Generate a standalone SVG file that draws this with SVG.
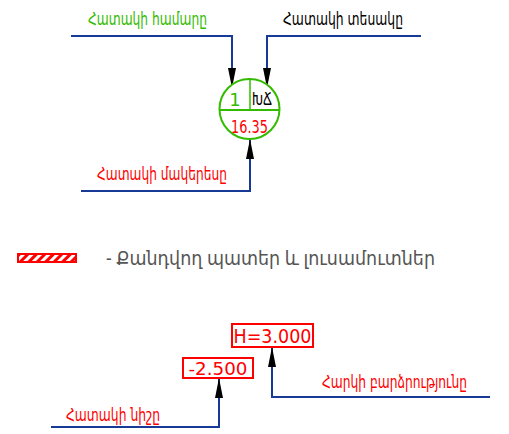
<svg xmlns="http://www.w3.org/2000/svg" width="509" height="434" viewBox="0 0 509 434">
<style>
.t{font-family:"DejaVu Sans","Noto Sans",sans-serif;font-size:18px}
.g{fill:#33bb00}.r{fill:#ff0000}.k{fill:#000}
.ln{fill:none;stroke:#163a96;stroke-width:2;marker-end:url(#ah)}
.box{fill:#fff;stroke:#ff0000;stroke-width:2}
</style>
<defs>
<marker id="ah" markerUnits="userSpaceOnUse" markerWidth="22" markerHeight="10" refX="20" refY="4" orient="auto">
<path d="M0,0 L20,4 L0,8 Z" fill="#000"/>
</marker>
<pattern id="hatch" patternUnits="userSpaceOnUse" width="6" height="6" patternTransform="rotate(45)">
<rect width="6" height="6" fill="#fff"/>
<rect width="3" height="6" fill="#ff0000"/>
</pattern>
</defs>
<g id="connectors">
<path class="ln" d="M71,36 H232 V88"/>
<path class="ln" d="M421,36 H267 V88"/>
<path class="ln" d="M81,191 H250 V139"/>
<path class="ln" d="M51,427 H219 V378"/>
<path class="ln" d="M490,397 H272 V347"/>
</g>
<g id="label-number"><text class="t g" x="88" y="25" textLength="119" lengthAdjust="spacingAndGlyphs">Հատակի համարը</text></g>
<g id="label-type"><text class="t k" x="283" y="25" textLength="120" lengthAdjust="spacingAndGlyphs">Հատակի տեսակը</text></g>
<g id="label-area"><text class="t r" x="97" y="180" textLength="130" lengthAdjust="spacingAndGlyphs">Հատակի մակերեսը</text></g>
<g id="floor-marker">
<circle cx="249.5" cy="109" r="30" fill="#fff" stroke="#33bb00" stroke-width="2"/>
<line x1="219.5" y1="110" x2="279.5" y2="110" stroke="#33bb00" stroke-width="2"/>
<line x1="250" y1="79" x2="250" y2="110" stroke="#33bb00" stroke-width="1.5"/>
<text class="t g" x="235" y="106" text-anchor="middle" font-size="18">1</text>
<text class="t k" x="262" y="105" text-anchor="middle" font-size="16" textLength="20" lengthAdjust="spacingAndGlyphs">ԽՃ</text>
<text class="t r" x="249.5" y="133" text-anchor="middle" font-size="19" textLength="37" lengthAdjust="spacingAndGlyphs">16.35</text>
</g>
<g id="legend">
<rect x="18" y="254" width="58" height="8" fill="url(#hatch)" stroke="#ff0000" stroke-width="2"/>
<text x="106" y="265" font-family="Noto Sans,DejaVu Sans,sans-serif" font-size="19" fill="#555" textLength="329" lengthAdjust="spacingAndGlyphs">- Քանդվող պատեր և լուսամուտներ</text>
</g>
<g id="elev-height">
<rect class="box" x="232" y="324" width="81" height="23"/>
<text x="272.5" y="343" text-anchor="middle" font-family="DejaVu Sans,sans-serif" font-size="19" fill="#ff0000" textLength="78" lengthAdjust="spacingAndGlyphs">H=3.000</text>
</g>
<g id="elev-level">
<rect class="box" x="183" y="358" width="70" height="20"/>
<text x="218" y="375" text-anchor="middle" font-family="DejaVu Sans,sans-serif" font-size="17" fill="#ff0000" textLength="59" lengthAdjust="spacingAndGlyphs">-2.500</text>
</g>
<g id="label-level"><text class="t r" x="66" y="421" textLength="94" lengthAdjust="spacingAndGlyphs">Հատակի նիշը</text></g>
<g id="label-height"><text class="t r" transform="translate(322,388) scale(0.725,1)" x="0" y="0" textLength="200" lengthAdjust="spacingAndGlyphs">Հարկի բարձրությունը</text></g>
</svg>
